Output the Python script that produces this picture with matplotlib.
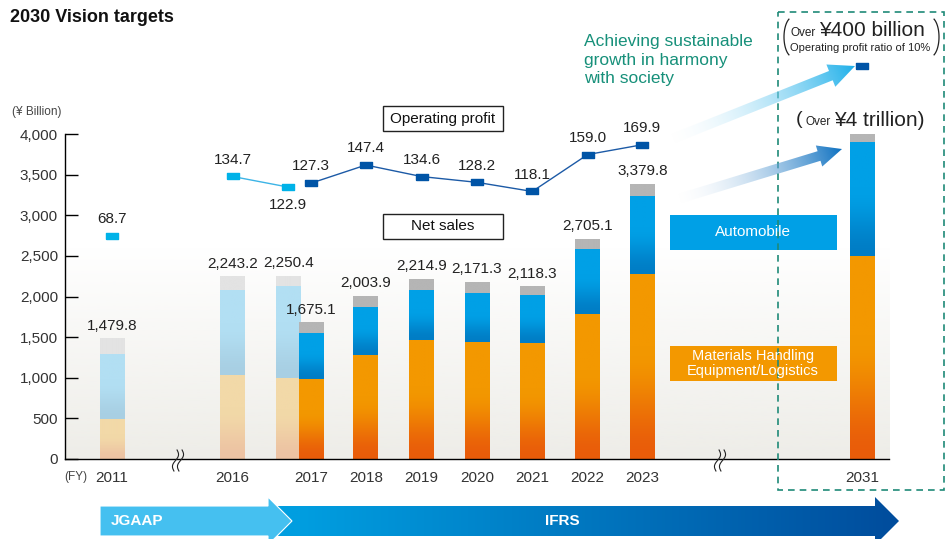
import numpy as np
import matplotlib.pyplot as plt
from matplotlib.patches import Rectangle, Polygon
from matplotlib.colors import to_rgb

plt.rcParams['font.family'] = ['Liberation Sans', 'DejaVu Sans']

# ---- data ----
years = ['2011', '2016', '2017', '2017', '2018', '2019', '2020', '2021', '2022', '2023', '2031']
jgaap = [True, True, True, False, False, False, False, False, False, False, False]
net_sales = [1479.8, 2243.2, 2250.4, 1675.1, 2003.9, 2214.9, 2171.3, 2118.3, 2705.1, 3379.8, 4000]
mh_sales = [492, 1034, 997, 985, 1280, 1465, 1440, 1428, 1785, 2277, 2500]
auto_sales = [800, 1046, 1132, 566, 591, 615, 603, 590, 799, 960, 1400]
profit = [68.7, 134.7, 122.9, 127.3, 147.4, 134.6, 128.2, 118.1, 159.0, 169.9]
profit_2031_pos = 257   # target marker is drawn off-scale

# layout
xpos = [0, 2.18, 3.19, 3.6, 4.59, 5.6, 6.6, 7.6, 8.6, 9.59, 13.57]
tick_idx = [0, 1, 3, 4, 5, 6, 7, 8, 9, 10]
bw = 0.45
W, H = 946, 539


def vgrad(c_bot, c_top, frac=0.6, n=80):
    t = np.linspace(0, 1, n)
    s = np.clip(t / frac, 0, 1)
    s = s * s * (3 - 2 * s)
    cb, ct = np.array(to_rgb(c_bot)), np.array(to_rgb(c_top))
    col = cb[None, :] * (1 - s[:, None]) + ct[None, :] * s[:, None]
    return col[::-1][:, None, :]


def grad_fill(a, verts, p0, p1, c0, c1, a0=1.0, a1=1.0, z=3):
    verts = np.array(verts, float)
    xmin, ymin = verts.min(0)
    xmax, ymax = verts.max(0)
    xs = np.linspace(xmin, xmax, int(xmax - xmin) + 2)
    ys = np.linspace(ymin, ymax, int(ymax - ymin) + 2)
    X, Y = np.meshgrid(xs, ys)
    d = np.array(p1, float) - np.array(p0, float)
    t = np.clip(((X - p0[0]) * d[0] + (Y - p0[1]) * d[1]) / (d @ d), 0, 1)
    c0, c1 = np.array(to_rgb(c0)), np.array(to_rgb(c1))
    rgba = np.zeros(X.shape + (4,))
    rgba[..., :3] = c0 * (1 - t[..., None]) + c1 * t[..., None]
    rgba[..., 3] = a0 * (1 - t) + a1 * t
    poly = Polygon(verts, closed=True, facecolor='none', edgecolor='none', zorder=z)
    a.add_patch(poly)
    im = a.imshow(rgba, extent=[xmin, xmax, ymax, ymin], origin='upper',
                  aspect='auto', interpolation='bilinear', zorder=z)
    im.set_clip_path(poly)


def arrow_verts(p0, p1, w, hw, hl):
    p0, p1 = np.array(p0, float), np.array(p1, float)
    d = p1 - p0
    u = d / np.hypot(*d)
    n = np.array([-u[1], u[0]])
    b = p1 - u * hl
    return [p0 + n * w / 2, b + n * w / 2, b + n * hw / 2, p1,
            b - n * hw / 2, b - n * w / 2, p0 - n * w / 2]


fig = plt.figure(figsize=(9.46, 5.39), dpi=100)
ax = fig.add_axes([65 / W, 1 - 459 / H, (889 - 65) / W, (459 - 134) / H])
xmin, xmax = -0.85, 14.05

# background gradient
bg = np.zeros((100, 1, 4))
bg[..., :3] = to_rgb('#eeede8')
bg[:, 0, 3] = np.linspace(0, 1, 100)
ax.imshow(bg, extent=[xmin, xmax, 0, 2610], origin='upper', aspect='auto', zorder=0)

# stacked bars
other = [n - m - a for n, m, a in zip(net_sales, mh_sales, auto_sales)]
for i in range(len(years)):
    if jgaap[i]:
        cols = [('#edc3a3', '#f2d9a8'), ('#a8cfe3', '#b2dff3'), ('#e3e3e3', '#e3e3e3')]
    else:
        cols = [('#e95c0a', '#f39800'), ('#007dc5', '#00a0e6'), ('#b5b5b5', '#b5b5b5')]
    bottoms = [0, mh_sales[i], mh_sales[i] + auto_sales[i]]
    heights = [mh_sales[i], auto_sales[i], other[i]]
    for (cb, ct), b0, h in zip(cols, bottoms, heights):
        r = ax.bar(xpos[i], h, bw, bottom=b0, color=ct, zorder=2)[0]
        ax.imshow(vgrad(cb, ct), extent=[r.get_x(), r.get_x() + r.get_width(), b0, b0 + h],
                  origin='upper', aspect='auto', interpolation='bilinear', zorder=2.1)
    if i < len(years) - 1:
        ax.annotate(f'{net_sales[i]:,.1f}', (xpos[i], net_sales[i]), xytext=(0, 9.5),
                    textcoords='offset points', ha='center', va='center',
                    fontsize=11, color='#222222', zorder=5)

ax.set_xlim(xmin, xmax)
ax.set_ylim(0, 4000)
ax.set_yticks(range(0, 4001, 500))
ax.set_yticklabels([f'{v:,}' for v in range(0, 4001, 500)])
ax.set_xticks([xpos[i] for i in tick_idx])
ax.set_xticklabels([years[i] for i in tick_idx])
ax.tick_params(axis='y', direction='in', length=9, width=1, labelsize=11,
               labelcolor='#333333', pad=5)
ax.tick_params(axis='x', length=0, labelsize=11, labelcolor='#333333', pad=9)
for s in ['top', 'right']:
    ax.spines[s].set_visible(False)
ax.spines['left'].set_bounds(0, 4000)
ax.spines['left'].set_linewidth(1)
ax.spines['bottom'].set_linewidth(1)
ax.set_facecolor('none')

# operating profit on its own scale
ax2 = ax.twinx()
ax2.set_ylim(-178.5, 181.8)
ax2.axis('off')
mk = [(-1, -0.42), (1, -0.42), (1, 0.42), (-1, 0.42), (-1, -0.42)]
ax2.plot(xpos[1:3], profit[1:3], color='#3db4e6', lw=1, zorder=3)
ax2.plot(xpos[3:10], profit[3:10], color='#1c5aa6', lw=1, zorder=3)
for i, v in enumerate(profit):
    c = '#00b2e8' if jgaap[i] else '#0054a6'
    ax2.plot(xpos[i], v, marker=mk, markersize=9, color=c, linestyle='none', zorder=4)
    dy = -13 if i == 2 else 12
    ax2.annotate(f'{v:.1f}', (xpos[i], v), xytext=(0, dy), textcoords='offset points',
                 ha='center', va='center', fontsize=11, color='#222222')
ax2.plot(xpos[10], profit_2031_pos, marker=mk, markersize=9, color='#0054a6',
         linestyle='none', clip_on=False, zorder=4)

# ---- overlay in pixel coordinates ----
ov = fig.add_axes([0, 0, 1, 1], zorder=5)
ov.patch.set_alpha(0)

ov.text(10, 18, '2030 Vision targets', fontsize=13, fontweight='bold', va='center', color='#111111')
ov.text(12, 112, '(¥ Billion)', fontsize=8.5, va='center', color='#444444')
ov.text(64, 477, '(FY)', fontsize=8.5, va='center', color='#444444')

for x, y, t in [(383, 106, 'Operating profit'), (383, 214, 'Net sales')]:
    ov.add_patch(Rectangle((x, y), 120, 25, facecolor='white', edgecolor='#222222', lw=1))
    ov.text(x + 60, y + 12.5, t, ha='center', va='center', fontsize=11, color='#111111')

ov.add_patch(Rectangle((670, 215), 167, 35, facecolor='#00a0e6', edgecolor='none'))
ov.text(753, 232.5, 'Automobile', ha='center', va='center', fontsize=11, color='white')
ov.add_patch(Rectangle((670, 346), 167, 35, facecolor='#f39800', edgecolor='none'))
ov.text(753, 363.5, 'Materials Handling\nEquipment/Logistics', ha='center', va='center',
        fontsize=10.5, color='white', linespacing=1.1)

ov.text(584, 60, 'Achieving sustainable\ngrowth in harmony\nwith society', ha='left',
        va='center', fontsize=12.5, color='#17907a', linespacing=1.32)

# dashed target box
ov.add_patch(Rectangle((778, 12), 166, 478, facecolor='none', edgecolor='#1f8a78',
                       lw=1.2, linestyle=(0, (4, 3))))

# target texts with thin tall parentheses
th = np.linspace(np.pi - 1.1, np.pi + 1.1, 40)
ov.plot(793 + 9 * np.cos(th), 37 + 20 * np.sin(th), color='#222222', lw=0.9)
ov.plot(930 - 9 * np.cos(th), 37 + 20 * np.sin(th), color='#222222', lw=0.9)
ov.text(790, 33, 'Over', fontsize=8.5, va='center', color='#222222')
ov.text(819, 30, '¥400 billion', fontsize=15, va='center', color='#222222')
ov.text(790, 48, 'Operating profit ratio of 10%', fontsize=8, va='center', color='#222222')
ov.text(796, 120, '(', fontsize=14, va='center', color='#222222')
ov.text(805, 122, 'Over', fontsize=8.5, va='center', color='#222222')
ov.text(834, 120, '¥4 trillion)', fontsize=15, va='center', color='#222222')

# growth arrows
grad_fill(ov, arrow_verts((672, 139), (855, 66), 10, 24, 26), (672, 139), (855, 66),
          '#e6f5fc', '#1eb0ea', 0.0, 1.0)
grad_fill(ov, arrow_verts((678, 199), (842, 149), 10, 22, 24), (678, 199), (842, 149),
          '#e4ecf6', '#0a6fc0', 0.0, 1.0)

# axis break marks
yy = np.linspace(450, 471, 30)
for x0 in [178, 720]:
    for dx in [-2.5, 2.5]:
        ov.plot(x0 + dx + 2.2 * np.sin((yy - 450) / 21 * 2 * np.pi) - (yy - 460.5) * 0.15,
                yy, color='#222222', lw=0.8)

# accounting standard arrows
ifrs = [(272, 506), (875, 506), (875, 497), (899, 521), (875, 545), (875, 536), (272, 536)]
grad_fill(ov, ifrs, (300, 521), (890, 521), '#009ee0', '#004d9d', z=3)
jg = [(100, 506), (268, 506), (268, 497), (292, 521), (268, 545), (268, 536), (100, 536)]
ov.add_patch(Polygon(jg, closed=True, facecolor='#45c0f0', edgecolor='white', lw=0.8, zorder=4))
ov.text(137, 521, 'JGAAP', ha='center', va='center', fontsize=11, fontweight='bold', color='white', zorder=5)
ov.text(562, 521, 'IFRS', ha='center', va='center', fontsize=11, fontweight='bold', color='white', zorder=5)

ov.set_xlim(0, W)
ov.set_ylim(H, 0)
ov.axis('off')

fig.savefig('out.png', dpi=100)
